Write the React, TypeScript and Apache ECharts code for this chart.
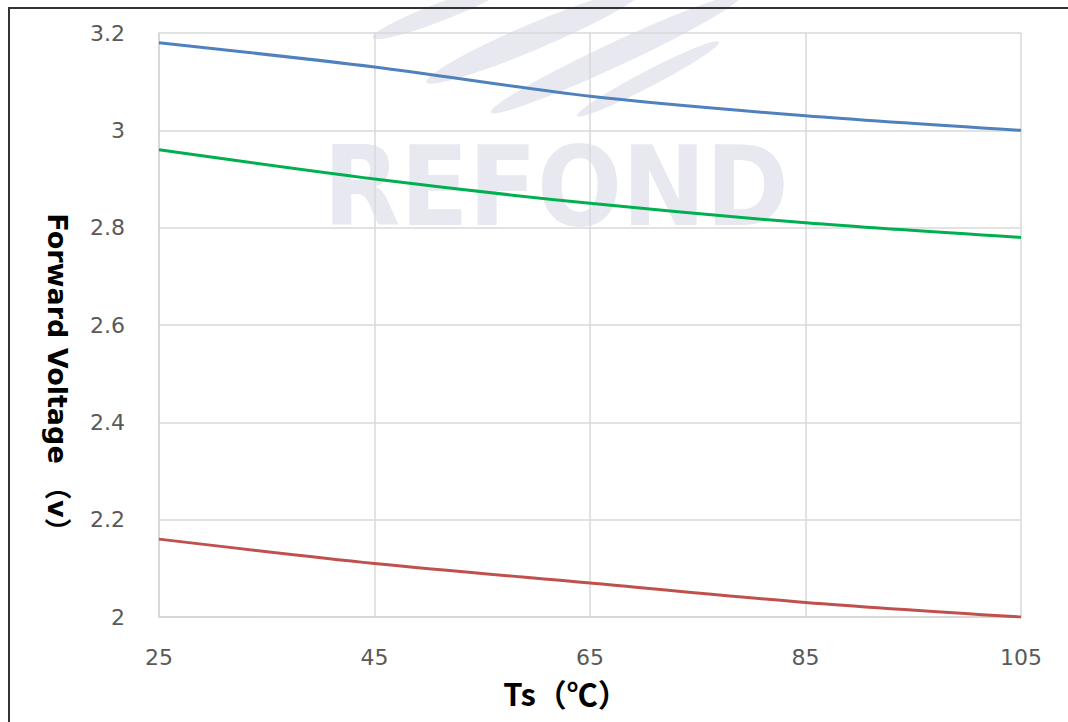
import React, { useEffect, useRef } from "react";
import * as echarts from "echarts";

const categories = ["25", "45", "65", "85", "105"];
const blueSeries = [3.18, 3.13, 3.07, 3.03, 3.0];
const greenSeries = [2.96, 2.9, 2.85, 2.81, 2.78];
const redSeries = [2.16, 2.11, 2.07, 2.03, 2.0];
const yName = "Forward Voltage （v）";
const xName = "Ts（℃）";
const watermarkText = "REFOND";

export default function App() {
  const ref = useRef<HTMLDivElement>(null);
  useEffect(() => {
    if (!ref.current) return;
    const chart = echarts.init(ref.current, null, { renderer: "svg" });
    const wm = "#e8e9f0";
    const swoosh = (cx: number, cy: number, rx: number, ry: number, deg: number) => ({
      type: "ellipse",
      x: cx,
      y: cy,
      rotation: (deg * Math.PI) / 180,
      shape: { cx: 0, cy: 0, rx, ry },
      style: { fill: wm },
      z: -10,
      silent: true,
    });
    chart.setOption({
      animation: false,
      backgroundColor: "#ffffff",
      grid: { left: 159, right: 47, top: 33, bottom: 105 },
      xAxis: {
        type: "category",
        data: categories,
        boundaryGap: false,
        axisLine: { show: true, lineStyle: { color: "#d4d4d4", width: 1.5 } },
        axisTick: { show: false },
        axisLabel: { color: "#595959", fontSize: 22, fontFamily: "DejaVu Sans", margin: 29 },
        splitLine: { show: true, lineStyle: { color: "#d9d9d9", width: 1.5 } },
      },
      yAxis: {
        type: "value",
        min: 2,
        max: 3.2,
        interval: 0.2,
        axisLine: { show: true, lineStyle: { color: "#d4d4d4", width: 1.5 } },
        axisTick: { show: false },
        axisLabel: {
          color: "#595959",
          fontSize: 22,
          fontFamily: "DejaVu Sans",
          margin: 34,
          formatter: (v: number) => String(Math.round(v * 10) / 10),
        },
        splitLine: { show: true, lineStyle: { color: "#d9d9d9", width: 1.5 } },
      },
      series: [
        { type: "line", data: blueSeries, smooth: 0.3, symbol: "none", lineStyle: { color: "#4f81bd", width: 3 }, z: 3 },
        { type: "line", data: greenSeries, smooth: 0.3, symbol: "none", lineStyle: { color: "#00b050", width: 3 }, z: 3 },
        { type: "line", data: redSeries, smooth: 0.3, symbol: "none", lineStyle: { color: "#c0504d", width: 3 }, z: 3 },
      ],
      graphic: [
        swoosh(440, 12, 72, 9, 21),
        swoosh(535, 36, 118, 13, 23),
        swoosh(616, 54, 138, 12, 25),
        swoosh(648, 79, 80, 8, 27.5),
        {
          type: "text",
          x: 556,
          y: 187,
          scaleX: 0.91,
          z: -10,
          silent: true,
          style: {
            text: watermarkText,
            fill: wm,
            font: "bold 110px 'DejaVu Sans'",
            align: "center",
            verticalAlign: "middle",
          },
        },
        {
          type: "rect",
          shape: { x: 9, y: 8, width: 1200, height: 900 },
          style: { fill: "none", stroke: "#333333", lineWidth: 2 },
          z: 100,
          silent: true,
        },
        {
          type: "text",
          x: 57,
          y: 379,
          rotation: -Math.PI / 2,
          z: 50,
          style: {
            text: yName,
            fill: "#000000",
            font: "bold 27px 'DejaVu Sans', 'Noto Sans CJK SC'",
            align: "center",
            verticalAlign: "middle",
          },
        },
        {
          type: "text",
          x: 566,
          y: 692,
          z: 50,
          style: {
            text: xName,
            fill: "#000000",
            font: "bold 31px 'Noto Sans CJK SC'",
            align: "center",
            verticalAlign: "middle",
          },
        },
      ],
    });
    return () => chart.dispose();
  }, []);
  return (
    <div
      ref={ref}
      style={{ position: "absolute", left: 0, top: 0, width: 1068, height: 722 }}
    />
  );
}
